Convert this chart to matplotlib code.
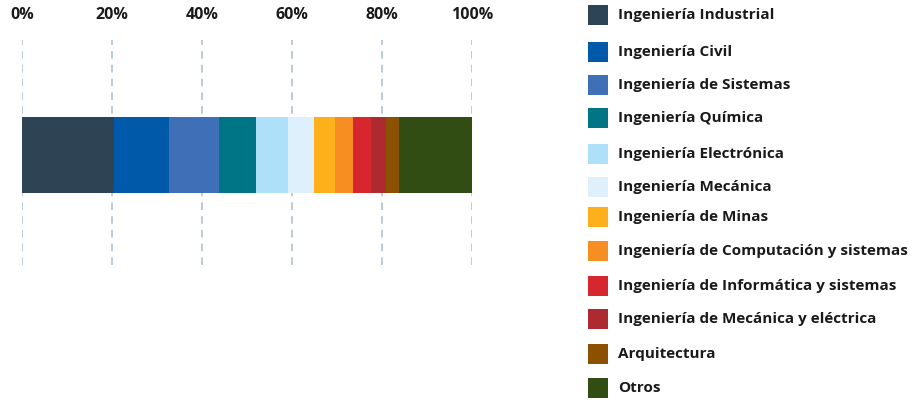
import matplotlib
matplotlib.use("Agg")
from matplotlib import pyplot as plt
from matplotlib.patches import Rectangle

carreras = ['Ingeniería Industrial', 'Ingeniería Civil', 'Ingeniería de Sistemas',
            'Ingeniería Química', 'Ingeniería Electrónica', 'Ingeniería Mecánica',
            'Ingeniería de Minas', 'Ingeniería de Computación y sistemas',
            'Ingeniería de Informática y sistemas', 'Ingeniería de Mecánica y eléctrica',
            'Arquitectura', 'Otros']
porcentajes = [20.4, 12.3, 11.1, 8.2, 7.0, 5.8, 4.8, 4.0, 4.0, 3.3, 2.9, 16.2]
colores = ['#2e4353', '#005aa9', '#3f6fb6', '#007585', '#aee0fa', '#def0fb',
           '#fdb01c', '#f68e22', '#d6262e', '#ad2a30', '#8c5100', '#324d13']
ticks = [0, 20, 40, 60, 80, 100]
tick_labels = ['0%', '20%', '40%', '60%', '80%', '100%']

plt.rcParams['font.family'] = ['Open Sans', 'DejaVu Sans']

W, H = 922, 400
fig = plt.figure(figsize=(W / 100, H / 100), dpi=100)
ax = fig.add_axes([22 / W, (H - 265) / H, 450 / W, 225 / H])

# stacked horizontal bar
left = 0
for p, c in zip(porcentajes, colores):
    ax.barh(0.49, p, left=left, height=0.338, color=c, linewidth=0, zorder=3)
    left += p

ax.set_xlim(0, 100)
ax.set_ylim(0, 1)
ax.set_xticks(ticks)
ax.set_xticklabels(tick_labels, fontsize=11.5, fontweight='bold', color='#1a1a1a')
ax.xaxis.tick_top()
ax.tick_params(axis='x', length=0, pad=12)
ax.set_yticks([])
for s in ax.spines.values():
    s.set_visible(False)
for t in ticks:
    ax.axvline(t, color='#a9bdcc', linewidth=1.1, dashes=(5, 4), zorder=1)

# legend, placed by hand like the original
ys = [15, 52, 85, 118, 154, 187, 217, 251, 286, 319, 354, 388]
for nombre, c, y in zip(carreras, colores, ys):
    fig.patches.append(Rectangle((588 / W, (H - y - 10) / H), 20 / W, 20 / H,
                                 transform=fig.transFigure, color=c, linewidth=0))
    fig.text(618 / W, (H - y) / H, nombre, fontsize=11, fontweight='bold',
             color='#1a1a1a', va='center', ha='left')

plt.savefig('out.png', dpi=100)
